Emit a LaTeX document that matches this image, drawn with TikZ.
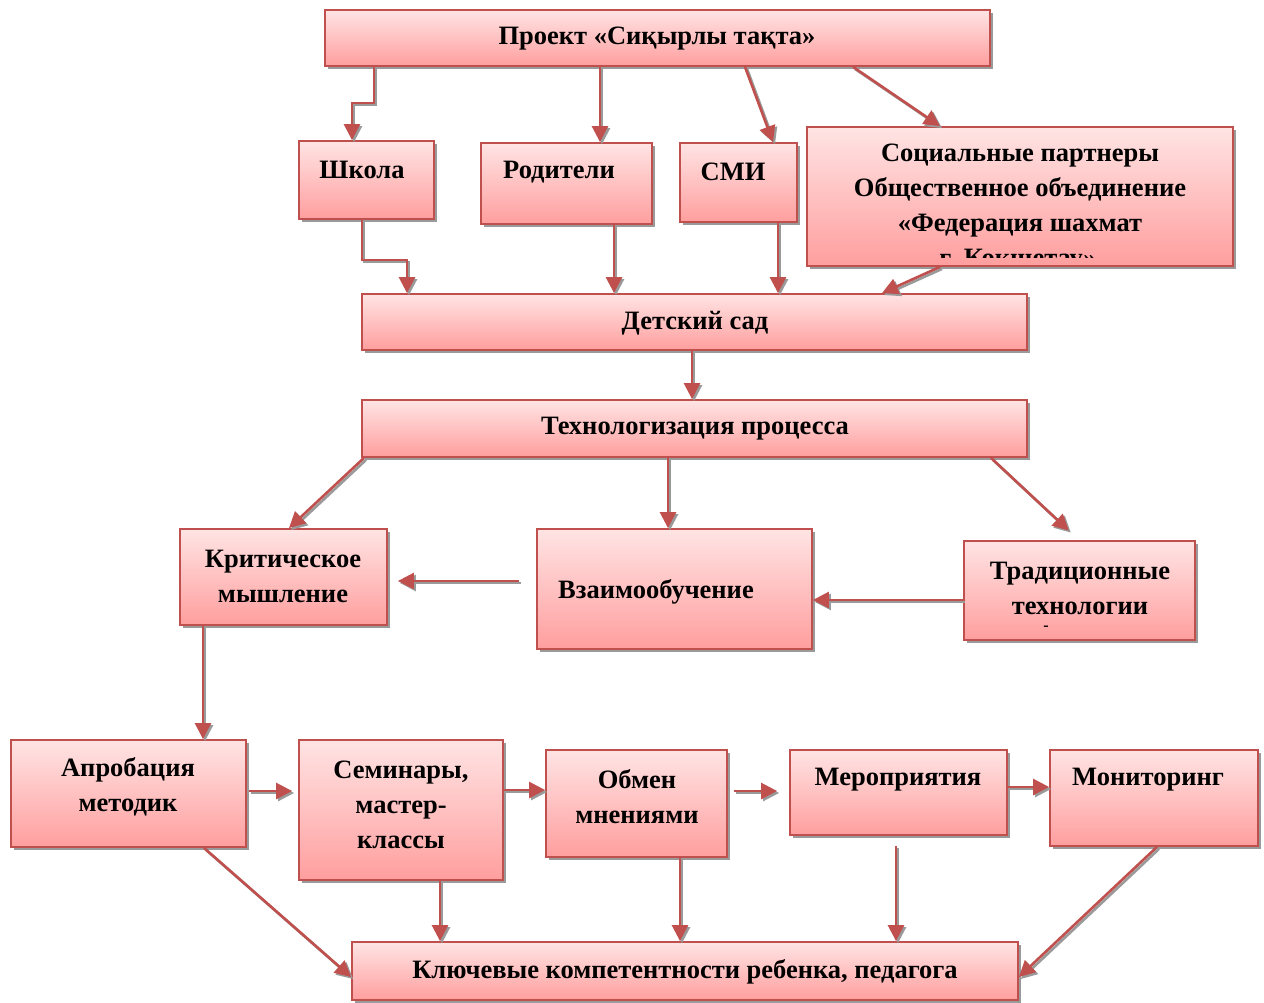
\documentclass[tikz,border=0pt]{standalone}
\usepackage{fontspec}
\setmainfont{Liberation Serif}
\usetikzlibrary{arrows.meta,shadows}
\definecolor{bord}{HTML}{C0504D}
\definecolor{ptop}{HTML}{FFE4E4}
\definecolor{pbot}{HTML}{FF9E9E}
\definecolor{shd}{HTML}{9A9A9A}
\tikzset{
 box/.style={draw=bord, line width=1.8pt, top color=ptop, bottom color=pbot,
   drop shadow={shadow xshift=3pt, shadow yshift=-3pt, fill=shd, opacity=1}, inner sep=0pt},
 txt/.style={font=\fontsize{26.5}{35}\selectfont\bfseries, align=center, inner sep=0pt},
 arr/.style={draw=bord, line width=2.6pt, -{Triangle[length=16pt,width=16pt]},
   preaction={draw=shd, line width=2.6pt, transform canvas={shift={(2pt,-2pt)}}}},
}
\begin{document}
\begin{tikzpicture}[x=1pt,y=-1pt]
\fill[white] (0,0) rectangle (1264,1003);
\useasboundingbox (0,0) rectangle (1264,1003);
% boxes
\node[box, minimum width=665pt, minimum height=56pt] (proj) at (657.5,38) {};
\node[box, minimum width=135pt, minimum height=78pt] (sch) at (366.5,180) {};
\node[box, minimum width=171pt, minimum height=81pt] (rod) at (566.5,183.5) {};
\node[box, minimum width=117pt, minimum height=79pt] (smi) at (738.5,182.5) {};
\node[box, minimum width=426pt, minimum height=139pt] (soc) at (1020,196.5) {};
\node[box, minimum width=665pt, minimum height=56pt] (ds) at (694.5,322) {};
\node[box, minimum width=665pt, minimum height=57pt] (tech) at (694.5,428.5) {};
\node[box, minimum width=207pt, minimum height=96pt] (krit) at (283.5,577) {};
\node[box, minimum width=275pt, minimum height=120pt] (vz) at (674.5,589) {};
\node[box, minimum width=231pt, minimum height=99pt] (trad) at (1079.5,590.5) {};
\node[box, minimum width=235pt, minimum height=107pt] (apr) at (128.5,793.5) {};
\node[box, minimum width=204pt, minimum height=140pt] (sem) at (401,810) {};
\node[box, minimum width=181pt, minimum height=107pt] (obm) at (636.5,803.5) {};
\node[box, minimum width=217pt, minimum height=85pt] (mer) at (898.5,792.5) {};
\node[box, minimum width=208pt, minimum height=96pt] (mon) at (1154,798) {};
\node[box, minimum width=666pt, minimum height=58pt] (key) at (685,971) {};
% texts
\node[txt] (tproj) at (657,39) {Проект «Сиқырлы тақта»};
\node[txt] (tsch) at (362,170) {Школа};
\node[txt] (trod) at (559,172) {Родители};
\node[txt] (tsmi) at (733,172) {СМИ};
\node[txt] (tsoc) at (1020,191) {Социальные партнеры\\Общественное объединение\\«Федерация шахмат};
\begin{scope}
\clip (808,128) rectangle (1232,258);
\node[txt] (tsoc4) at (1018,261) {г. Кокшетау»};
\end{scope}
\node[txt] (tds) at (695,323) {Детский сад};
\node[txt] (ttech) at (695,429) {Технологизация процесса};
\node[txt] (tkrit) at (283,576) {Критическое\\мышление};
\node[txt] (tvz) at (656,592) {Взаимообучение};
\node[txt] (ttrad) at (1080,588) {Традиционные\\технологии};
\node[font=\fontsize{16}{18}\selectfont\bfseries, inner sep=0pt] (tdash) at (1046,628) {-};
\node[txt] (tapr) at (128,787) {Апробация\\методик};
\node[txt] (tsem) at (401,805) {Семинары,\\мастер-\\классы};
\node[txt] (tobm) at (637,797) {Обмен\\мнениями};
\node[txt] (tmer) at (898,780) {Мероприятия};
\node[txt] (tmon) at (1148,780) {Мониторинг};
\node[txt] (tkey) at (685,972) {Ключевые компетентности ребенка, педагога};
% arrows
\draw[arr] (proj.south -| 374,0) |- (352,103) -- (sch.north -| 352,0);
\draw[arr] (proj.south -| 600,0) -- (rod.north -| 600,0);
\draw[arr] (proj.south -| 745,0) -- (smi.north -| 773,0);
\draw[arr] (proj.south -| 853,0) -- (soc.north -| 940,0);
\draw[arr] (sch.south -| 362,0) |- (407,260) -- (ds.north -| 407,0);
\draw[arr] (rod.south -| 614,0) -- (ds.north -| 614,0);
\draw[arr] (smi.south -| 778,0) -- (ds.north -| 778,0);
\draw[arr] (soc.south -| 940,0) -- (ds.north -| 882,0);
\draw[arr] (ds.south -| 692,0) -- (tech.north -| 692,0);
\draw[arr] (tech.south -| 364,0) -- (krit.north -| 289,0);
\draw[arr] (tech.south -| 668,0) -- (vz.north -| 668,0);
\draw[arr, shorten >=14pt] (tech.south -| 991,0) -- (trad.north -| 1079,0);
\draw[arr, shorten <=17pt, shorten >=10pt] (vz.west |- 0,581) -- (krit.east |- 0,581);
\draw[arr] (trad.west |- 0,600) -- (vz.east |- 0,600);
\draw[arr] (krit.south -| 203,0) -- (apr.north -| 203,0);
\draw[arr, shorten <=2pt, shorten >=6pt] (apr.east |- 0,791) -- (sem.west |- 0,791);
\draw[arr] (sem.east |- 0,790) -- (obm.west |- 0,790);
\draw[arr, shorten <=6pt, shorten >=12pt] (obm.east |- 0,791) -- (mer.west |- 0,791);
\draw[arr] (mer.east |- 0,787) -- (mon.west |- 0,787);
\draw[arr] (apr.south -| 204,0) -- (key.west |- 0,977);
\draw[arr] (sem.south -| 440,0) -- (key.north -| 440,0);
\draw[arr] (obm.south -| 680,0) -- (key.north -| 680,0);
\draw[arr, shorten <=10pt] (mer.south -| 896,0) -- (key.north -| 896,0);
\draw[arr] (mon.south -| 1157,0) -- (key.east |- 0,977);
\end{tikzpicture}
\end{document}
